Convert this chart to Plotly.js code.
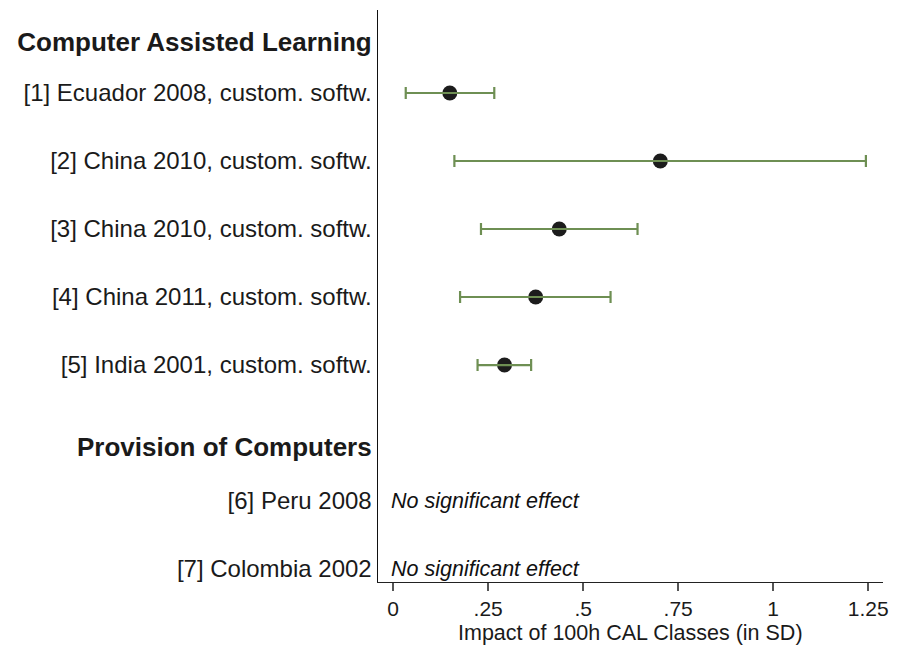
<!DOCTYPE html>
<html>
<head>
<meta charset="utf-8">
<script src="https://cdn.plot.ly/plotly-3.0.1.min.js"></script>
<style>html,body{margin:0;padding:0;background:#fff;}#chart{width:904px;height:647px;}</style>
</head>
<body>
<div id="chart"></div>
<script>
// Studies with estimates (row positions)
const studyRows = [1, 2, 3, 4, 5];
const estimates = [0.149, 0.703, 0.437, 0.375, 0.293];
const ciLow = [0.033, 0.161, 0.231, 0.176, 0.222];
const ciHigh = [0.266, 1.244, 0.643, 0.572, 0.363];

// Row labels (including group headers)
const labelRows = [0.26, 1, 2, 3, 4, 5, 6.22, 7, 8];
const labelTexts = [
  "<b style='font-size:26px'>Computer Assisted Learning</b>",
  "[1] Ecuador 2008, custom. softw.",
  "[2] China 2010, custom. softw.",
  "[3] China 2010, custom. softw.",
  "[4] China 2011, custom. softw.",
  "[5] India 2001, custom. softw.",
  "<b style='font-size:26px'>Provision of Computers</b>",
  "[6] Peru 2008",
  "[7] Colombia 2002"
];

// Studies without significant effect
const nsRows = [7, 8];
const nsText = "No significant effect";

// X-axis ticks
const xTickVals = [0, 0.25, 0.5, 0.75, 1, 1.25];
const xTickText = ["0", ".25", ".5", ".75", "1", "1.25"];
const xTitle = "Impact of 100h CAL Classes (in SD)";

const green = "#6e8f53";
const FONT = "Liberation Sans, Arial, sans-serif";

const traces = [
  {
    type: "scatter", mode: "markers",
    x: estimates, y: studyRows,
    marker: {color: "#1c1c1c", size: 15},
    hoverinfo: "skip", showlegend: false
  },
  {
    type: "scatter", mode: "markers",
    x: estimates, y: studyRows,
    marker: {color: "rgba(0,0,0,0)", size: 1},
    error_x: {
      type: "data", symmetric: false,
      array: ciHigh.map((h, i) => h - estimates[i]),
      arrayminus: ciLow.map((l, i) => estimates[i] - l),
      color: green, thickness: 2.2, width: 6
    },
    hoverinfo: "skip", showlegend: false
  }
];

const annotations = nsRows.map(r => ({
  x: -0.012, y: r, xref: "x", yref: "y",
  text: "<i>" + nsText + "</i>",
  xanchor: "left", yanchor: "middle", showarrow: false,
  font: {family: FONT, size: 21.5, color: "#111"}
}));
annotations.push({
  x: 0.5, y: -0.112, xref: "paper", yref: "paper",
  text: xTitle, xanchor: "center", yanchor: "bottom", showarrow: false,
  borderpad: 0,
  font: {family: FONT, size: 21.5, color: "#1a1a1a"}
});

const layout = {
  width: 904, height: 647,
  margin: {l: 378, r: 21, t: 10, b: 65},
  paper_bgcolor: "#fff", plot_bgcolor: "#fff",
  font: {family: FONT, size: 24, color: "#1a1a1a"},
  xaxis: {
    range: [-0.04, 1.289],
    tickvals: xTickVals, ticktext: xTickText,
    showgrid: false, zeroline: false,
    showline: true, linecolor: "#222", linewidth: 1.2,
    ticks: "outside", ticklen: 8, tickwidth: 1.5, tickcolor: "#555",
    tickfont: {size: 21, color: "#1a1a1a"}
  },
  yaxis: {
    range: [8.19, -0.22],
    tickvals: labelRows, ticktext: labelTexts,
    showgrid: false, zeroline: false,
    showline: true, linecolor: "#111", linewidth: 1.5,
    ticks: "", ticklen: 0,
    tickfont: {size: 24, color: "#1a1a1a"}
  },
  annotations: annotations
};

Plotly.newPlot("chart", traces, layout, {displayModeBar: false, staticPlot: true});
</script>
</body>
</html>
